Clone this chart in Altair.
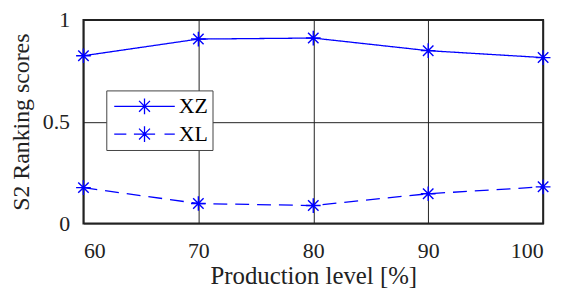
import altair as alt
import pandas as pd

levels = [60, 70, 80, 90, 100]
xz = [0.824, 0.906, 0.911, 0.849, 0.815]
xl = [0.176, 0.098, 0.088, 0.146, 0.180]
series_names = ["XZ", "XL"]
line_styles = ["solid", "dashed"]

df = pd.DataFrame({
    "level": levels * 2,
    "score": xz + xl,
    "series": [series_names[0]] * len(levels) + [series_names[1]] * len(levels),
    "style": [line_styles[0]] * len(levels) + [line_styles[1]] * len(levels),
})

BLUE = "#0000ff"
FONT = "Liberation Serif"

star = "M-1,0L1,0M0,-1L0,1M-0.71,-0.71L0.71,0.71M-0.71,0.71L0.71,-0.71"
leg_star = "M-0.24,0L0.24,0M0,-0.26L0,0.26M-0.18,-0.18L0.18,0.18M-0.18,0.18L0.18,-0.18"
leg_solid = "M-1,0L1,0" + leg_star
leg_dash = "M-1,0L-0.6,0M0.66,0L1,0M-0.35,0L-0.24,0M0.24,0L0.35,0" + leg_star

x_enc = alt.X("level:Q", scale=alt.Scale(domain=[60, 100], nice=False),
              axis=alt.Axis(values=levels, title="Production level [%]", format="d"))
y_enc = alt.Y("score:Q", scale=alt.Scale(domain=[0, 1], nice=False),
              axis=alt.Axis(values=[0, 0.5, 1], title="S2 Ranking scores",
                            labelExpr="datum.value == 0.5 ? '0.5' : format(datum.value, 'd')"))

base = alt.Chart(df)

lines = base.mark_line(color=BLUE, strokeWidth=1.3).encode(
    x=x_enc, y=y_enc,
    strokeDash=alt.StrokeDash("style:N", scale=alt.Scale(domain=line_styles, range=[[1, 0], [14, 8]]), legend=None),
)

points = base.mark_point(shape=star, filled=False, color=BLUE, size=220, strokeWidth=1.4, opacity=1).encode(
    x=x_enc, y=y_enc, detail="series:N",
)

legend_layer = base.mark_point(filled=False, color=BLUE, size=220, strokeWidth=1.3).encode(
    x=x_enc, y=y_enc,
    shape=alt.Shape("series:N",
                    scale=alt.Scale(domain=series_names, range=[leg_solid, leg_dash]),
                    legend=alt.Legend(title=None, orient="none", legendX=23, legendY=71,
                                      symbolSize=3721, symbolOpacity=1, symbolStrokeColor=BLUE,
                                      symbolFillColor="transparent", symbolStrokeWidth=1.3,
                                      clipHeight=24, rowPadding=4, padding=4, symbolOffset=3,
                                      labelOffset=3, labelFont=FONT, labelFontSize=22,
                                      labelColor="black", strokeColor="#444444",
                                      fillColor="white", labelLimit=200)),
).transform_filter("datum.level > 1000")

chart = alt.layer(lines, points, legend_layer).properties(
    width=463, height=205, padding={"left": 1, "top": 0, "right": 5, "bottom": 0}
).configure_view(
    stroke="#222222", strokeWidth=2
).configure_axis(
    grid=True, gridColor="#222222", gridWidth=1, gridOpacity=1,
    ticks=False, domain=False,
    labelFont=FONT, labelFontSize=22, labelColor="#222222",
    titleFont=FONT, titleFontSize=25, titleFontWeight="normal", titleColor="#222222",
).configure_axisX(
    labelPadding=17, titlePadding=2,
).configure_axisY(
    labelPadding=14, titlePadding=9, titleFontSize=24,
)

chart.save("out.html", embed_options={"renderer": "svg", "actions": False})
